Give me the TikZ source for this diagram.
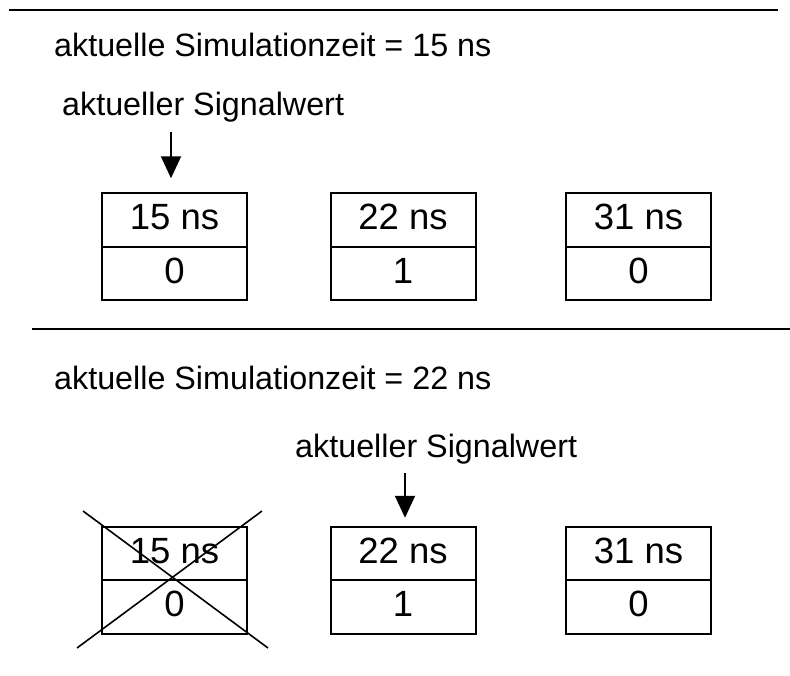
\documentclass[tikz,border=0pt]{standalone}
\usepackage{fontspec}
\setmainfont{Liberation Sans}
\usetikzlibrary{arrows.meta}
\begin{document}
\begin{tikzpicture}[x=1pt,y=-1pt,
  font=\fontsize{32.3}{38}\selectfont,
  txt/.style={inner sep=0pt,anchor=base west},
  cell/.style={draw,line width=2pt,minimum width=145pt,minimum height=53.5pt,
    inner sep=0pt,outer sep=0pt,font=\fontsize{36.5}{42}\selectfont,
    text height=26pt,text depth=7pt},
  rule/.style={line width=2.5pt},
  pointer/.style={line width=2pt,-{Triangle[width=20pt,length=22pt]}},
  strike/.style={line width=1.6pt}]
\useasboundingbox (0,0) rectangle (790,675);

% separating rules
\coordinate (r1a) at (9,10);
\coordinate (r1b) at (778,10);
\coordinate (r2a) at (32,329);
\coordinate (r2b) at (790,329);
\draw[rule] (r1a) -- (r1b);
\draw[rule] (r2a) -- (r2b);

% time step 15 ns
\node[txt] (time1) at (54,56) {aktuelle Simulationzeit = 15 ns};
\node[txt] (sig1) at (62,115) {aktueller Signalwert};

\node[cell] (t11) at (174.5,220) {15 ns};
\node[cell,anchor=north] (v11) at (t11.south) {0};
\node[cell] (t12) at (403,220) {22 ns};
\node[cell,anchor=north] (v12) at (t12.south) {1};
\node[cell] (t13) at (638.5,220) {31 ns};
\node[cell,anchor=north] (v13) at (t13.south) {0};

\coordinate (p1) at (171,132);
\draw[pointer,shorten >=15pt] (p1) -- (t11.north -| p1);

% time step 22 ns
\node[txt] (time2) at (54,389) {aktuelle Simulationzeit = 22 ns};
\node[txt] (sig2) at (295,457) {aktueller Signalwert};

\node[cell] (t21) at (174.5,553.5) {15 ns};
\node[cell,anchor=north] (v21) at (t21.south) {0};
\node[cell] (t22) at (403,553.5) {22 ns};
\node[cell,anchor=north] (v22) at (t22.south) {1};
\node[cell] (t23) at (638.5,553.5) {31 ns};
\node[cell,anchor=north] (v23) at (t23.south) {0};

\coordinate (p2) at (405,473);
\draw[pointer,shorten >=9pt] (p2) -- (t22.north -| p2);

% the expired transaction is crossed out
\coordinate (x1) at (83,511);
\coordinate (x2) at (268,648);
\coordinate (x3) at (262,511);
\coordinate (x4) at (77,648);
\draw[strike] (x1) -- (x2);
\draw[strike] (x3) -- (x4);
\end{tikzpicture}
\end{document}
